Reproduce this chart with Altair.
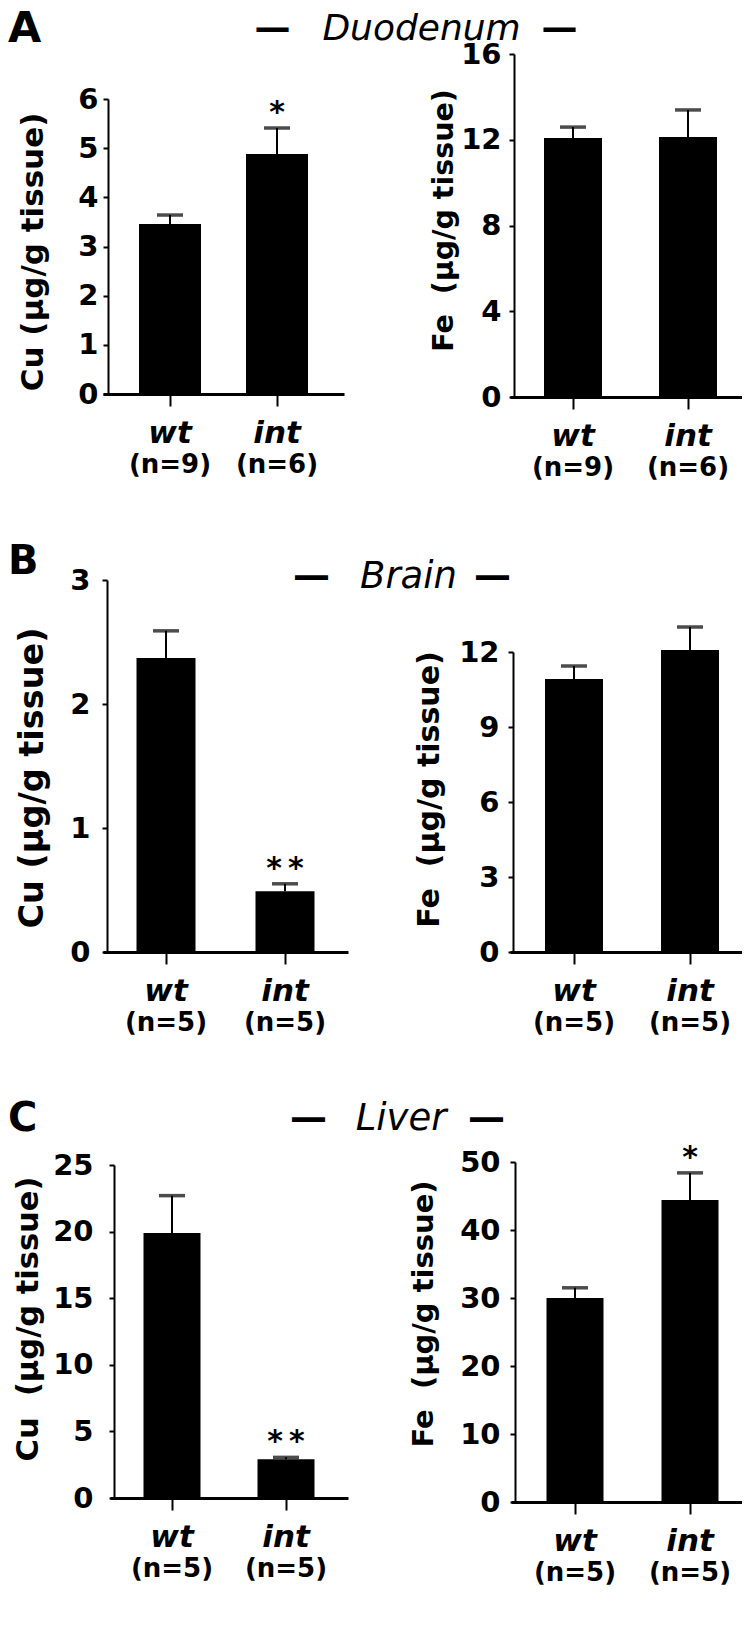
import altair as alt
import pandas as pd

# ---------------- data ----------------
groups = ["wt", "int"]

cu_duodenum_mean = [3.46, 4.88]
cu_duodenum_sem = [0.18, 0.53]
fe_duodenum_mean = [12.08, 12.13]
fe_duodenum_sem = [0.51, 1.26]

cu_brain_mean = [2.37, 0.49]
cu_brain_sem = [0.22, 0.06]
fe_brain_mean = [10.92, 12.08]
fe_brain_sem = [0.52, 0.92]

cu_liver_mean = [19.9, 2.9]
cu_liver_sem = [2.8, 0.15]
fe_liver_mean = [30.0, 44.4]
fe_liver_sem = [1.5, 4.0]

n_duodenum = ["(n=9)", "(n=6)"]
n_brain = ["(n=5)", "(n=5)"]
n_liver = ["(n=5)", "(n=5)"]

stars_cu_duodenum = ["", "*"]
stars_fe_duodenum = ["", ""]
stars_cu_brain = ["", "*\u2009*"]
stars_fe_brain = ["", ""]
stars_cu_liver = ["", "*\u2009*"]
stars_fe_liver = ["", "*"]

ticks_cu_duodenum = [0, 1, 2, 3, 4, 5, 6]
ticks_fe_duodenum = [0, 4, 8, 12, 16]
ticks_cu_brain = [0, 1, 2, 3]
ticks_fe_brain = [0, 3, 6, 9, 12]
ticks_cu_liver = [0, 5, 10, 15, 20, 25]
ticks_fe_liver = [0, 10, 20, 30, 40, 50]

ytitle_cu_duodenum = "Cu (µg/g tissue)"
ytitle_fe_duodenum = "Fe\u00a0\u00a0(µg/g tissue)"
ytitle_cu_brain = "Cu (µg/g tissue)"
ytitle_fe_brain = "Fe\u00a0\u00a0(µg/g tissue)"
ytitle_cu_liver = "Cu\u00a0\u00a0(µg/g tissue)"
ytitle_fe_liver = "Fe\u00a0\u00a0(µg/g tissue)"

row_titles = ["Duodenum", "Brain", "Liver"]
panel_letters = ["A", "B", "C"]
dash = "\u2014"

# ---------------- layout (page pixels) ----------------
W, H = 734, 1600
M = 8  # page margin
FONT = "DejaVu Sans"

layout = [
    dict(ax=108, y0=394, ytop=99, c=(170, 277), x0=103, bw=62, lp=5, tfs=31, tbx=42, tcy=251.5),
    dict(ax=514, y0=397, ytop=54, c=(573, 688), x0=510, bw=58, lp=8, tfs=28.5, tbx=452, tcy=220),
    dict(ax=107, y0=952, ytop=580, c=(166, 285), x0=103, bw=59, lp=12, tfs=33.5, tbx=42, tcy=777.5),
    dict(ax=513, y0=952, ytop=652, c=(574, 690), x0=510, bw=58, lp=9, tfs=30, tbx=438, tcy=789),
    dict(ax=114, y0=1498, ytop=1165, c=(172, 286), x0=110, bw=57, lp=16, tfs=30.5, tbx=37, tcy=1318.5),
    dict(ax=515, y0=1502, ytop=1162, c=(575, 690), x0=511, bw=57, lp=10, tfs=29, tbx=432, tcy=1313.5),
]

# (name centre x, left dash centre x, right dash centre x, baseline y, font size)
row_title_pos = [(421.5, 272.5, 559.5, 40, 36), (408.5, 311.5, 492.5, 588, 37),
                 (401, 308.5, 486.5, 1130, 37)]
letter_pos = [(0, 42, 43), (0, 574, 40), (0, 1131, 40)]


def panel(cfg, means, sems, stars, ns, ticks, ytitle):
    df = pd.DataFrame({
        "group": groups,
        "mean": means,
        "top": [m + s for m, s in zip(means, sems)],
        "star": stars,
        "n": ns,
        "zero": [0, 0],
    })
    c0, c1 = cfg["c"]
    step = c1 - c0
    e = c0 - cfg["x0"]
    pad = e / step - 0.5
    xscale = alt.Scale(domain=groups, range=[cfg["x0"] - M, c1 + e - M],
                       paddingInner=0, paddingOuter=pad)
    yscale = alt.Scale(domain=[0, ticks[-1]], range=[cfg["y0"] - M, cfg["ytop"] - M],
                       nice=False, zero=True)
    xaxis = alt.Axis(orient="bottom", offset=(cfg["y0"] - M) - H, title=None,
                     labelAngle=0, labelFontSize=31, labelFontStyle="italic",
                     labelFontWeight="bold", labelPadding=12, tickSize=12,
                     tickWidth=2, domainWidth=3.2, labelFont=FONT)
    yaxis = alt.Axis(orient="left", offset=-(cfg["ax"] - M), values=ticks,
                     title=ytitle, titleFontSize=cfg["tfs"], titleAngle=270,
                     titleAlign="center", titleBaseline="alphabetic",
                     titleX=cfg["tbx"] - cfg["ax"], titleY=cfg["tcy"] - M,
                     labelFontSize=29, labelPadding=cfg["lp"], tickSize=5,
                     tickWidth=2, domainWidth=2, labelFont=FONT, titleFont=FONT)
    x = alt.X("group:N", sort=groups, scale=xscale, axis=xaxis)

    def y(field):
        return alt.Y(field, type="quantitative", scale=yscale, axis=yaxis)

    base = alt.Chart(df)
    bars = base.mark_bar(size=cfg["bw"], color="black").encode(x=x, y=y("mean"))
    stem = base.mark_rule(strokeWidth=2, color="black").encode(
        x=x, y=y("mean"), y2=alt.Y2("top"))
    cap = base.mark_tick(size=26, thickness=3.5, color="black").encode(x=x, y=y("top"))
    star = base.mark_text(font=FONT, fontSize=30, fontWeight="bold", baseline="alphabetic",
                          dy=-6, color="black").encode(x=x, y=y("top"), text="star:N")
    nlab = base.mark_text(font=FONT, fontSize=26, fontWeight="bold", baseline="middle",
                          dy=71, color="black").encode(x=x, y=y("zero"), text="n:N")
    return alt.layer(bars, stem, cap, star, nlab)


panels = [
    panel(layout[0], cu_duodenum_mean, cu_duodenum_sem, stars_cu_duodenum, n_duodenum,
          ticks_cu_duodenum, ytitle_cu_duodenum),
    panel(layout[1], fe_duodenum_mean, fe_duodenum_sem, stars_fe_duodenum, n_duodenum,
          ticks_fe_duodenum, ytitle_fe_duodenum),
    panel(layout[2], cu_brain_mean, cu_brain_sem, stars_cu_brain, n_brain,
          ticks_cu_brain, ytitle_cu_brain),
    panel(layout[3], fe_brain_mean, fe_brain_sem, stars_fe_brain, n_brain,
          ticks_fe_brain, ytitle_fe_brain),
    panel(layout[4], cu_liver_mean, cu_liver_sem, stars_cu_liver, n_liver,
          ticks_cu_liver, ytitle_cu_liver),
    panel(layout[5], fe_liver_mean, fe_liver_sem, stars_fe_liver, n_liver,
          ticks_fe_liver, ytitle_fe_liver),
]


def note(text, x, y, size, style="normal", weight="normal", align="center"):
    return (
        alt.Chart(pd.DataFrame({"t": [text]}))
        .mark_text(font=FONT, fontSize=size, fontStyle=style, fontWeight=weight,
                   align=align, baseline="alphabetic", color="black")
        .encode(x=alt.value(x - M), y=alt.value(y - M), text="t:N")
    )


notes = []
for name, (cx, d1, d2, by, fs) in zip(row_titles, row_title_pos):
    notes.append(note(name, cx, by, fs, style="italic"))
    notes.append(note(dash, d1, by, fs, weight="bold"))
    notes.append(note(dash, d2, by, fs, weight="bold"))
for letter, (lx, by, fs) in zip(panel_letters, letter_pos):
    notes.append(note(letter, lx + M, by, fs, weight="bold", align="left"))

chart = (
    alt.layer(*panels, *notes)
    .resolve_scale(x="independent", y="independent")
    .resolve_axis(x="independent", y="independent")
    .properties(width=W, height=H, autosize=alt.AutoSizeParams(type="none"), padding=0)
    .configure_view(stroke=None)
    .configure_axis(grid=False, domainColor="black", tickColor="black",
                    labelColor="black", titleColor="black", labelFontWeight="bold",
                    titleFontWeight="bold", zindex=1)
)

chart.save("out.html", embed_options={"renderer": "svg", "actions": False})
